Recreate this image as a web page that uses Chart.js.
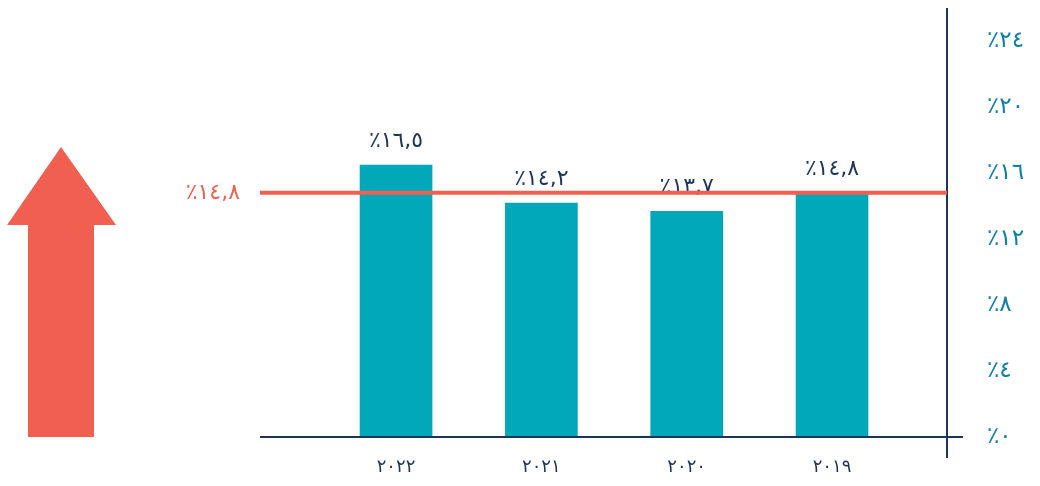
<!DOCTYPE html>
<html lang="ar">
<head>
<meta charset="utf-8">
<script src="https://cdn.jsdelivr.net/npm/chart.js@4/dist/chart.umd.min.js"></script>
<style>
  html, body { margin: 0; padding: 0; background: #fff; }
  #wrap { width: 1040px; height: 486px; }
</style>
</head>
<body>
<div id="wrap"><canvas id="graphique"></canvas></div>
<script>
"use strict";
/* global Chart */
// Données du graphique
const annees = ["2019", "2020", "2021", "2022"];
const valeurs = [14.8, 13.7, 14.2, 16.5];
const moyenne = 14.8;
const ticksY = [0, 4, 8, 12, 16, 20, 24];

const chiffresArabes = "٠١٢٣٤٥٦٧٨٩";
const enArabe = (texte) => String(texte).replace(/\d/g, d => chiffresArabes[d]).replace(".", ",");
const pourcent = (v) => "٪" + enArabe(v);

const bleuFonce = "#1c3557";
const rouge = "#f15f51";
const police = "'DejaVu Sans', sans-serif";

// Lignes d'axes, flèche, ligne moyenne et étiquettes
const decor = {
    id: "decor",
    afterDatasetsDraw(chart) {
        const ctx = chart.ctx;
        const area = chart.chartArea;
        const y = chart.scales.y;
        const meta = chart.getDatasetMeta(0);
        ctx.save();
        // étiquettes des barres
        ctx.fillStyle = bleuFonce;
        ctx.font = "22px " + police;
        ctx.textAlign = "center";
        ctx.textBaseline = "alphabetic";
        meta.data.forEach((bar, i) => {
            ctx.fillText(pourcent(valeurs[i]), bar.x, bar.y - 18);
        });
        // axes
        ctx.strokeStyle = bleuFonce;
        ctx.lineWidth = 2;
        ctx.beginPath();
        ctx.moveTo(area.left, area.bottom);
        ctx.lineTo(area.right + 16, area.bottom);
        ctx.moveTo(area.right, area.top);
        ctx.lineTo(area.right, area.bottom + 21);
        ctx.stroke();
        // ligne moyenne
        const yMoy = y.getPixelForValue(moyenne);
        ctx.strokeStyle = rouge;
        ctx.lineWidth = 4;
        ctx.beginPath();
        ctx.moveTo(area.left, yMoy);
        ctx.lineTo(area.right, yMoy);
        ctx.stroke();
        ctx.fillStyle = rouge;
        ctx.font = "22px " + police;
        ctx.textAlign = "right";
        ctx.textBaseline = "middle";
        ctx.fillText(pourcent(moyenne), area.left - 20, yMoy);
        // flèche
        ctx.beginPath();
        ctx.moveTo(28, area.bottom);
        ctx.lineTo(28, 225);
        ctx.lineTo(7, 225);
        ctx.lineTo(61, 147);
        ctx.lineTo(116, 225);
        ctx.lineTo(94, 225);
        ctx.lineTo(94, area.bottom);
        ctx.closePath();
        ctx.fill();
        ctx.restore();
    }
};

const data = {
    datasets: [{
        data: valeurs.map((v, i) => ({ x: i, y: v })),
        backgroundColor: "#00a8ba",
        barPercentage: 0.5,
        categoryPercentage: 1.0,
    }],
};

const config = {
    type: "bar",
    data: data,
    plugins: [decor],
    options: {
        responsive: true,
        maintainAspectRatio: false,
        animation: false,
        layout: { padding: { left: 260, top: 8, right: 0, bottom: 0 } },
        plugins: { legend: { display: false }, tooltip: { enabled: false } },
        scales: {
            x: {
                type: "linear",
                offset: false,
                reverse: true,
                min: -0.791,
                max: 3.936,
                grid: { display: false, drawTicks: true, tickLength: 20 },
                border: { display: false },
                afterBuildTicks: (scale) => { scale.ticks = annees.map((a, i) => ({ value: i })); },
                afterFit: (scale) => {
                    scale.height = 49;
                    scale.paddingLeft = 0;
                    scale.paddingRight = 0;
                },
                ticks: {
                    padding: 0,
                    color: bleuFonce,
                    font: { family: police, size: 18 },
                    callback: (v) => enArabe(annees[v]),
                },
            },
            y: {
                position: "right",
                min: 0,
                max: 26,
                grid: { display: false, drawTicks: true, tickLength: 40 },
                border: { display: false },
                afterBuildTicks: (scale) => { scale.ticks = ticksY.map(v => ({ value: v })); },
                afterFit: (scale) => {
                    scale.width = 93;
                    scale.paddingTop = 0;
                    scale.paddingBottom = 0;
                },
                ticks: {
                    padding: 0,
                    color: "#0e7fa6",
                    font: { family: police, size: 23 },
                    callback: (v) => pourcent(v),
                },
            },
        },
    },
};

new Chart(document.querySelector("#graphique"), config);
</script>
</body>
</html>
